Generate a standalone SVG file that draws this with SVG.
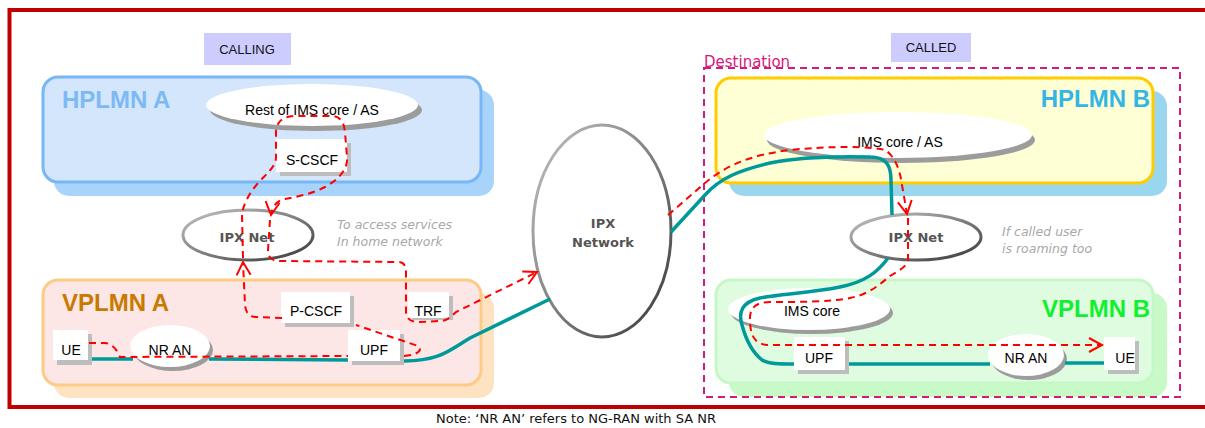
<svg xmlns="http://www.w3.org/2000/svg" width="1205" height="428" viewBox="0 0 1205 428">
<style>
 .lbl{font-family:"Liberation Sans",Arial,sans-serif;font-size:14px;fill:#000;text-anchor:middle}
 .hdr{font-family:"Liberation Sans",Arial,sans-serif;font-size:13px;fill:#111;text-anchor:middle}
 .net{font-family:"Liberation Sans",Arial,sans-serif;font-size:24px;font-weight:bold}
 .ipx{font-family:"DejaVu Sans",Verdana,sans-serif;font-size:13px;font-weight:bold;fill:#555;text-anchor:middle}
 .note{font-family:"DejaVu Sans",Verdana,sans-serif;font-size:12.5px;font-style:italic;fill:#A8A8A8}
 .box{fill:#fff}
 .bsh{fill:#BDBDBD}
 .esh{fill:#9C9C9C}
 .ring{fill:#fff;stroke:url(#ringg);stroke-width:3}
 .teal{fill:none;stroke:#00999A;stroke-width:3.5}
 .sig{fill:none;stroke:#FF0000;stroke-width:2;stroke-dasharray:7,5;marker-end:url(#arr)}
 .cont{stroke-width:3}
</style>
<defs>
 <linearGradient id="ringg" x1="0" y1="0" x2="1" y2="1">
  <stop offset="0" stop-color="#C4C4C4"/>
  <stop offset="0.5" stop-color="#808080"/>
  <stop offset="1" stop-color="#383838"/>
 </linearGradient>
 <marker id="arr" markerUnits="userSpaceOnUse" markerWidth="16" markerHeight="16" refX="13" refY="7" orient="auto" overflow="visible">
  <path d="M0,0 L13,7 L0,14" fill="none" stroke="#FF0000" stroke-width="2" stroke-dasharray="none"/>
 </marker>
</defs>
<rect width="1205" height="428" fill="#fff"/>
<rect id="frame" x="9.5" y="10" width="1212" height="397" fill="none" stroke="#C00000" stroke-width="4"/>

<g id="calling"><rect x="204" y="33" width="87" height="32" fill="#CCCCFF"/><text class="hdr" x="247" y="54">CALLING</text></g>
<g id="called"><rect x="891" y="33" width="80" height="29" fill="#CCCCFF"/><text class="hdr" x="931" y="52">CALLED</text></g>

<g id="hplmn-a">
 <rect x="54" y="90" width="440" height="106" rx="15" fill="#A8D3FA"/>
 <rect class="cont" x="43" y="77" width="438" height="105" rx="15" fill="#D3E6FC" stroke="#78B7F5"/>
 <text class="net" x="62" y="108" fill="#7DB9F5">HPLMN A</text>
</g>
<g id="vplmn-a">
 <rect x="54" y="293" width="440" height="105" rx="15" fill="#FDE3C2"/>
 <rect class="cont" x="43" y="280" width="438" height="105" rx="15" fill="#FDE6E6" stroke="#FDCB86"/>
 <text class="net" x="62" y="311" fill="#C87A00">VPLMN A</text>
</g>
<g id="hplmn-b">
 <rect x="729" y="91" width="438" height="105" rx="15" fill="#9AD7EF"/>
 <rect class="cont" x="716" y="78" width="437" height="105" rx="15" fill="#FFFFD6" stroke="#FFCC00"/>
 <text class="net" x="1150" y="107" fill="#33B5E5" text-anchor="end">HPLMN B</text>
</g>
<g id="vplmn-b">
 <rect x="729" y="293" width="438" height="104" rx="15" fill="#C8FAC8"/>
 <rect class="cont" x="716" y="280" width="437" height="103" rx="15" fill="#E0FCE0" stroke="#C6F7C6"/>
 <text class="net" x="1150" y="317" fill="#10F030" text-anchor="end">VPLMN B</text>
</g>

<g id="destination">
 <rect x="704" y="68" width="476" height="329" fill="none" stroke="#D6197C" stroke-width="2" stroke-dasharray="7,5"/>
 <text x="704" y="67" font-family="DejaVu Sans, Verdana, sans-serif" font-size="15" fill="#D6197C">Destination</text>
</g>

<g id="ims-a">
 <ellipse class="esh" cx="316" cy="110" rx="106" ry="21"/>
 <ellipse class="box" cx="312" cy="105" rx="106" ry="21"/>
 <text class="lbl" x="312" y="115">Rest of IMS core / AS</text>
</g>
<g id="ims-b">
 <ellipse class="esh" cx="901" cy="140" rx="134" ry="23"/>
 <ellipse class="box" cx="898" cy="135" rx="134" ry="23"/>
 <text class="lbl" x="900" y="147">IMS core / AS</text>
</g>
<g id="ims-core-b">
 <ellipse class="esh" cx="812" cy="313" rx="81" ry="21"/>
 <ellipse class="box" cx="809" cy="309" rx="81" ry="21"/>
 <text class="lbl" x="812" y="316">IMS core</text>
</g>

<g id="nran-a">
 <ellipse class="esh" cx="173" cy="350" rx="40" ry="21"/>
 <ellipse class="box" cx="170" cy="346" rx="40" ry="21"/>
 <text class="lbl" x="170" y="355">NR AN</text>
</g>
<g id="nran-b">
 <ellipse class="esh" cx="1029" cy="359" rx="38" ry="21"/>
 <ellipse class="box" cx="1026" cy="355" rx="38" ry="21"/>
 <text class="lbl" x="1026" y="363">NR AN</text>
</g>

<g id="ipx-net-a">
 <ellipse class="ring" cx="248" cy="235" rx="65" ry="25"/>
 <text class="ipx" x="247" y="242">IPX Net</text>
</g>
<g id="ipx-net-b">
 <ellipse class="ring" cx="916" cy="237" rx="65" ry="23"/>
 <text class="ipx" x="916" y="242">IPX Net</text>
</g>
<g id="ipx-network">
 <ellipse class="ring" cx="602" cy="231" rx="69" ry="106" stroke-width="3.5"/>
 <text class="ipx" x="603" y="228">IPX</text>
 <text class="ipx" x="603" y="247">Network</text>
</g>

<g id="s-cscf"><rect class="bsh" x="280" y="143" width="71" height="33"/><rect class="box" x="276" y="139" width="71" height="33"/><text class="lbl" x="312" y="165">S-CSCF</text></g>
<g id="p-cscf"><rect class="bsh" x="285" y="296" width="69" height="31"/><rect class="box" x="281" y="292" width="69" height="31"/><text class="lbl" x="316" y="316">P-CSCF</text></g>
<g id="trf"><rect class="bsh" x="412" y="296" width="41" height="24"/><rect class="box" x="408" y="292" width="41" height="26"/><text class="lbl" x="428" y="316">TRF</text></g>
<g id="ue-a"><rect class="bsh" x="57" y="334" width="35" height="31"/><rect class="box" x="53" y="330" width="35" height="30"/><text class="lbl" x="71" y="355">UE</text></g>
<g id="upf-a"><rect class="bsh" x="352" y="334" width="52" height="31"/><rect class="box" x="348" y="330" width="52" height="31"/><text class="lbl" x="374" y="355">UPF</text></g>
<g id="upf-b"><rect class="bsh" x="798" y="341" width="51" height="33"/><rect class="box" x="794" y="337" width="51" height="33"/><text class="lbl" x="819" y="363">UPF</text></g>
<g id="ue-b"><rect class="bsh" x="1108" y="341" width="31" height="33"/><rect class="box" x="1104" y="337" width="31" height="33"/><text class="lbl" x="1125" y="363">UE</text></g>

<g id="notes">
 <text class="note" x="337" y="229">To access services</text>
 <text class="note" x="337" y="246">In home network</text>
 <text class="note" x="1002" y="236">If called user</text>
 <text class="note" x="1002" y="253">is roaming too</text>
 <text x="576" y="423" text-anchor="middle" font-family="DejaVu Sans, Verdana, sans-serif" font-size="13" fill="#111">Note: ‘NR AN’ refers to NG-RAN with SA NR</text>
</g>

<g id="connectors">
 <path class="teal" d="M92,359 L133,359 M209,359 L348,360 M404,361 C440,361 450,350 470,338 L550,299"/>
 <path class="teal" d="M671,232 L705,195 C720,178 740,170 770,163 C800,157 830,156 870,157 C886,157 891,165 891,180 L892,215"/>
 <path class="teal" d="M888,258 C878,272 865,282 840,287 C810,293 780,294 760,298 C742,302 738,312 742,325 C746,340 752,352 762,360 C768,364 780,364 794,364 M849,364 L990,364 M1065,363 L1104,363"/>
 <path class="sig" d="M89,343 L105,343 C113,344 117,350 120,357 L348,356 M404,356 C418,355 423,350 418,346 L356,325 M282,318 L256,317 C249,317 246,313 245,305 L243,262"/>
 <path class="sig" d="M243,258 L242,215 C243,205 248,195 258,183 C266,174 275,168 276,158 L276,132 C276,122 283,116 295,116 L332,116 C340,116 344,122 345,132 L347,157 C348,170 338,180 325,187 C312,194 295,197 285,199 C276,201 272,207 271,215"/>
 <path class="sig" d="M270,220 L268,250 C268,258 272,261 280,261 L398,262 C404,262 406,266 406,272 L406,312 C406,318 410,322 418,322 L440,321 C446,321 450,318 456,312 L537,272"/>
 <path class="sig" d="M668,215 L705,183 C725,166 750,155 790,150 C830,146 870,146 885,150 C895,156 900,170 902,185 L907,214"/>
 <path class="sig" d="M908,218 L908,258 C908,266 900,270 890,276 C880,284 870,294 850,298 C830,302 800,302 770,302 C756,302 750,308 750,318 C750,332 752,344 768,345 L1102,345"/>
</g>
</svg>
